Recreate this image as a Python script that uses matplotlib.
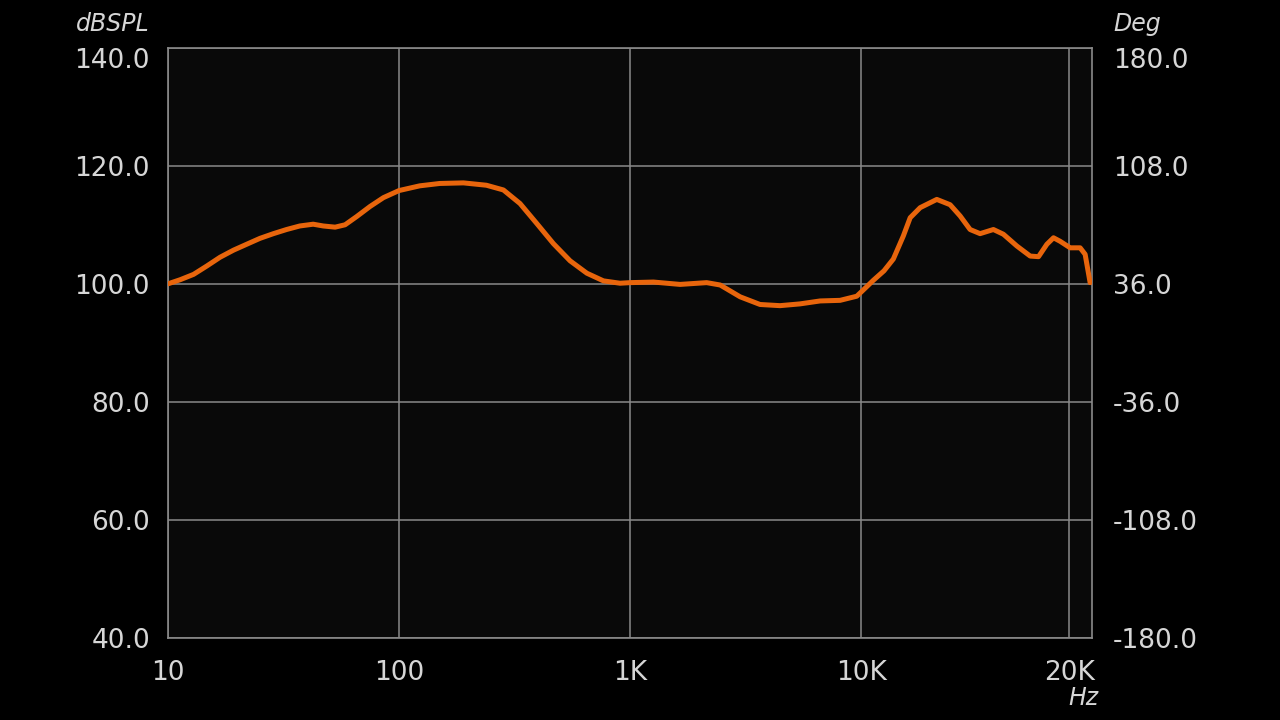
import numpy as np
import matplotlib.pyplot as plt

# frequency response
freq_hz = [10, 11.3, 12.9, 14.7, 16.8, 19.2, 21.9, 25.0, 28.6, 32.6, 37.2, 42.5,
           47, 52.9, 58.4, 65.6, 74.9, 85.6, 100, 123, 150, 190, 239, 283, 334,
           395, 466, 550, 650, 767, 905, 1000, 1262, 1646, 2146, 2455, 2995,
           3653, 4457, 5437, 6652, 8111, 9576, 10000, 10590, 11100, 11550, 12030,
           12360, 12840, 13640, 14280, 14760, 15240, 15720, 16360, 16840,
           17490, 18130, 18530, 18930, 19250, 19570, 20050, 20530, 20770, 21010]
spl_db = [100.0, 100.7, 101.6, 103.0, 104.5, 105.7, 106.7, 107.7, 108.5, 109.2,
          109.8, 110.1, 109.8, 109.6, 110.0, 111.4, 113.1, 114.6, 115.8, 116.6,
          117.0, 117.1, 116.7, 115.9, 113.6, 110.2, 106.8, 103.9, 101.8, 100.5,
          100.1, 100.2, 100.3, 99.9, 100.2, 99.8, 97.8, 96.5, 96.3, 96.6, 97.1,
          97.2, 97.9, 98.6, 100.6, 102.2, 104.2, 108.1, 111.2, 112.9, 114.3, 113.4,
          111.5, 109.2, 108.5, 109.2, 108.4, 106.4, 104.7, 104.6, 106.7, 107.8,
          107.2, 106.1, 106.1, 105.0, 100.2]

x_ticks = [10, 100, 1000, 10000, 20000]
x_labels = ["10", "100", "1K", "10K", "20K"]
db_ticks = [40, 60, 80, 100, 120, 140]
deg_ticks = [-180, -108, -36, 36, 108, 180]

# the chart is log up to 10K, then the last part is squeezed in linearly
K = 208 / 231


def fwd(f):
    f = np.clip(np.asarray(f, dtype=float), 1e-3, None)
    return np.where(f <= 1e4, np.log10(f), 4 + (f - 1e4) / 1e4 * K)


def inv(p):
    p = np.asarray(p, dtype=float)
    return np.where(p <= 4, 10 ** np.minimum(p, 4), 1e4 + (p - 4) / K * 1e4)


grid_c = "#8a8a8a"
text_c = "#d6d6d6"

fig = plt.figure(figsize=(12.8, 7.2), dpi=100, facecolor="black")
ax = fig.add_axes([0.13125, 0.11389, 0.721875, 0.81986])
ax.set_facecolor("#090909")
ax.set_xscale("function", functions=(fwd, inv))
ax.set_xlim(10, 21100)
ax.set_ylim(40, 140)

ax.plot(freq_hz, spl_db, color="#e8650c", lw=3.6, solid_joinstyle="round",
        solid_capstyle="round", zorder=3)

ax.set_xticks(x_ticks)
ax.set_xticklabels(x_labels)
ax.xaxis.set_minor_locator(plt.NullLocator())
ax.set_yticks(db_ticks)
ax.set_yticklabels([f"{v:.1f}" for v in db_ticks])
ax.grid(True, color=grid_c, lw=1.1)
ax.tick_params(length=0, colors=text_c, labelsize=19)
ax.tick_params(axis="y", pad=13)
ax.tick_params(axis="x", pad=16)
for s in ax.spines.values():
    s.set_color(grid_c)
    s.set_linewidth(1.2)

ax2 = ax.twinx()
ax2.set_ylim(-180, 180)
ax2.set_yticks(deg_ticks)
ax2.set_yticklabels([f"{v:.1f}" for v in deg_ticks])
ax2.tick_params(length=0, colors=text_c, labelsize=19, pad=15)
for s in ax2.spines.values():
    s.set_visible(False)

# top labels sit inside the frame
ax.get_yticklabels()[-1].set_va("top")
ax2.get_yticklabels()[-1].set_va("top")

fig.text(150 / 1280, 1 - 24 / 720, "dBSPL", color=text_c, fontsize=17,
         style="italic", ha="right", va="center")
fig.text(1113 / 1280, 1 - 24 / 720, "Deg", color=text_c, fontsize=17,
         style="italic", ha="left", va="center")
fig.text(1098 / 1280, 1 - 698 / 720, "Hz", color=text_c, fontsize=17,
         style="italic", ha="right", va="center")

fig.savefig("out.png", dpi=100, facecolor="black")
